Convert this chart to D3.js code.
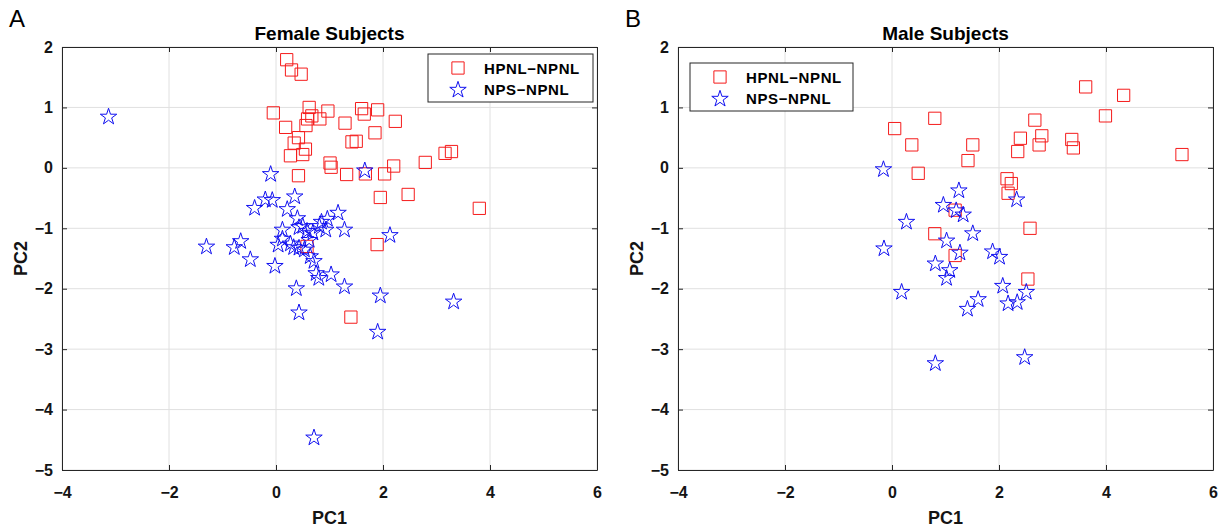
<!DOCTYPE html>
<html><head><meta charset="utf-8">
<script src="https://cdn.jsdelivr.net/npm/d3@7"></script>
<style>body{margin:0;background:#fff}svg{display:block;font-family:"Liberation Sans",Arial,sans-serif}</style>
</head><body>
<svg id="c" width="1222" height="528"></svg>
<script>
const xTicks = [-4, -2, 0, 2, 4, 6];
const yTicks = [-5, -4, -3, -2, -1, 0, 1, 2];
const seriesNames = ["HPNL−NPNL", "NPS−NPNL"];

const femaleHPNL = [[0.20,1.79],[0.29,1.62],[0.47,1.55],[-0.05,0.91],[0.62,1.00],[0.67,0.86],[0.59,0.81],[0.82,0.81],[0.97,0.94],[0.18,0.67],[0.56,0.70],[1.29,0.74],[1.60,0.98],[1.65,0.89],[1.90,0.96],[2.23,0.77],[1.85,0.58],[0.42,0.50],[0.34,0.41],[0.55,0.31],[0.50,0.22],[0.27,0.20],[1.42,0.43],[1.50,0.44],[1.01,0.08],[1.03,0.01],[0.42,-0.13],[1.32,-0.11],[1.67,-0.10],[2.03,-0.10],[2.20,0.03],[2.79,0.09],[3.16,0.24],[3.28,0.27],[1.95,-0.49],[2.47,-0.44],[3.80,-0.67],[0.58,-1.30],[1.89,-1.27],[1.40,-2.47]];
const femaleNPS = [[-3.13,0.86],[-0.10,-0.09],[1.66,-0.03],[0.35,-0.46],[-0.20,-0.51],[-0.07,-0.52],[-0.40,-0.65],[0.21,-0.67],[0.40,-0.82],[1.16,-0.73],[0.96,-0.83],[0.81,-0.95],[0.43,-0.97],[0.58,-1.03],[0.12,-1.01],[1.28,-1.01],[0.93,-1.01],[0.69,-1.06],[2.13,-1.10],[0.12,-1.16],[0.04,-1.26],[0.27,-1.24],[0.43,-1.31],[-0.66,-1.20],[-0.78,-1.30],[-1.30,-1.29],[-0.48,-1.50],[-0.02,-1.61],[0.53,-1.34],[0.64,-1.45],[0.71,-1.53],[0.75,-1.73],[0.80,-1.81],[1.03,-1.75],[1.28,-1.95],[0.38,-1.98],[1.95,-2.10],[0.43,-2.38],[1.90,-2.70],[3.32,-2.20],[0.71,-4.45],[0.50,-0.95],[0.62,-1.18],[0.33,-1.30],[0.85,-0.88]];
const maleHPNL = [[3.62,1.34],[4.33,1.20],[3.99,0.86],[0.80,0.82],[0.05,0.65],[2.67,0.79],[0.37,0.38],[1.51,0.38],[2.40,0.49],[2.80,0.53],[2.75,0.38],[2.35,0.27],[3.36,0.47],[3.39,0.33],[5.42,0.22],[1.42,0.12],[0.49,-0.09],[2.15,-0.18],[2.23,-0.26],[2.17,-0.42],[1.18,-0.70],[2.58,-1.00],[0.80,-1.09],[1.18,-1.45],[2.54,-1.84]];
const maleNPS = [[-0.16,-0.01],[1.25,-0.36],[0.96,-0.60],[1.20,-0.69],[1.33,-0.76],[2.33,-0.51],[0.27,-0.88],[1.51,-1.07],[1.02,-1.19],[-0.15,-1.32],[1.27,-1.39],[1.88,-1.37],[2.01,-1.46],[0.81,-1.57],[1.08,-1.68],[1.02,-1.81],[0.18,-2.04],[2.07,-1.94],[2.51,-2.04],[2.34,-2.21],[2.17,-2.23],[1.61,-2.16],[1.41,-2.32],[0.81,-3.22],[2.48,-3.12]];

const svg = d3.select("#c");
const RED = "#f51b1b", BLUE = "#1010f0", AX = "#262626";
const sq = d3.symbol().type(d3.symbolSquare).size(150)();
const st = d3.symbol().type(d3.symbolStar).size(84)();
const FONT = '"Liberation Sans",Arial,sans-serif';

function panel(o) {
  const x = d3.scaleLinear().domain([-4, 6]).range([o.left, o.left + 535]);
  const y = d3.scaleLinear().domain([-5, 2]).range([470, 47]);
  const g = svg.append("g");
  g.selectAll(".gx").data(xTicks).join("line")
    .attr("x1", d => x(d)).attr("x2", d => x(d)).attr("y1", y(-5)).attr("y2", y(2))
    .attr("stroke", "#e0e0e0").attr("stroke-width", 1);
  g.selectAll(".gy").data(yTicks).join("line")
    .attr("y1", d => y(d)).attr("y2", d => y(d)).attr("x1", x(-4)).attr("x2", x(6))
    .attr("stroke", "#e0e0e0").attr("stroke-width", 1);
  const fmt = d => d < 0 ? "−" + Math.abs(d) : d;
  const xa = g.append("g").attr("transform", `translate(0,${y(-5)})`)
    .call(d3.axisBottom(x).tickValues(xTicks).tickSizeInner(-5).tickSizeOuter(0).tickPadding(16.5).tickFormat(fmt));
  const xt = g.append("g").attr("transform", `translate(0,${y(2)})`)
    .call(d3.axisTop(x).tickValues(xTicks).tickSizeInner(-5).tickSizeOuter(0).tickFormat(""));
  const ya = g.append("g").attr("transform", `translate(${x(-4)},0)`)
    .call(d3.axisLeft(y).tickValues(yTicks).tickSizeInner(-5).tickSizeOuter(0).tickPadding(9).tickFormat(fmt));
  const yr = g.append("g").attr("transform", `translate(${x(6)},0)`)
    .call(d3.axisRight(y).tickValues(yTicks).tickSizeInner(-5).tickSizeOuter(0).tickFormat(""));
  [xa, xt, ya, yr].forEach(a => {
    a.select(".domain").attr("stroke", AX);
    a.selectAll(".tick line").attr("stroke", AX);
    a.selectAll("text").attr("fill", "#141414").style("font-size", "16px").style("font-weight", "bold")
      .style("font-family", FONT);
  });
  g.selectAll(".sq").data(o.hp).join("path").attr("d", sq)
    .attr("transform", d => `translate(${x(d[0])},${y(d[1])})`)
    .attr("fill", "none").attr("stroke", RED).attr("stroke-width", 1);
  g.selectAll(".st").data(o.nps).join("path").attr("d", st)
    .attr("transform", d => `translate(${x(d[0])},${y(d[1]) + 1})`)
    .attr("fill", "none").attr("stroke", BLUE).attr("stroke-width", 1);
  const cx = (x(-4) + x(6)) / 2;
  g.append("text").attr("x", cx).attr("y", 40).attr("text-anchor", "middle")
    .style("font-size", "19px").style("font-weight", "bold").attr("fill", "#000").text(o.title);
  g.append("text").attr("x", o.left - 53).attr("y", 27).style("font-size", "24px").attr("fill", "#000").text(o.letter);
  g.append("text").attr("x", cx).attr("y", 524).attr("text-anchor", "middle")
    .style("font-size", "18px").style("font-weight", "bold").attr("fill", "#141414").text("PC1");
  g.append("text").attr("transform", `translate(${o.left - 35},${(y(-5) + y(2)) / 2}) rotate(-90)`)
    .attr("text-anchor", "middle").style("font-size", "18px").style("font-weight", "bold").attr("fill", "#141414").text("PC2");
  const L = o.legend;
  const lg = g.append("g").attr("transform", `translate(${L.x},${L.y})`);
  lg.append("rect").attr("width", L.w).attr("height", 48).attr("fill", "#fff").attr("stroke", AX).attr("stroke-width", 1);
  const rows = [{s: sq, c: RED, t: seriesNames[0]}, {s: st, c: BLUE, t: seriesNames[1]}];
  rows.forEach((r, i) => {
    lg.append("path").attr("d", r.s).attr("transform", `translate(30,${14 + i * 21 + (i ? 1 : 0)})`)
      .attr("fill", "none").attr("stroke", r.c);
    lg.append("text").attr("x", 56).attr("y", 14 + i * 21 + 5.5).style("font-size", "15px").style("font-weight", "bold")
      .style("letter-spacing", "0.6px").attr("fill", "#000").text(r.t);
  });
}

panel({left: 62, hp: femaleHPNL, nps: femaleNPS, title: "Female Subjects", letter: "A",
  legend: {x: 428, y: 54, w: 165}});
panel({left: 678, hp: maleHPNL, nps: maleNPS, title: "Male Subjects", letter: "B",
  legend: {x: 690, y: 63, w: 163}});
</script>
</body></html>
